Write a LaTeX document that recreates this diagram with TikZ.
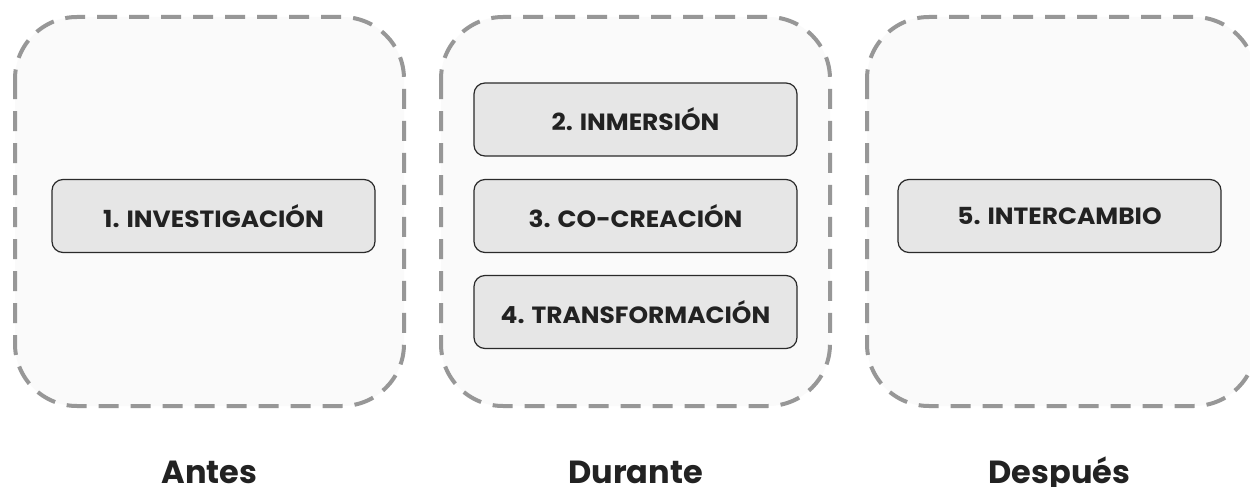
\documentclass[tikz,border=0pt]{standalone}
\usepackage{fontspec}
\setmainfont{Poppins}
\newfontfamily\boxfont[FakeStretch=1.06]{Poppins}
\definecolor{dashgray}{HTML}{979797}
\definecolor{panelfill}{HTML}{FAFAFA}
\definecolor{boxfill}{HTML}{E6E6E6}
\definecolor{boxline}{HTML}{2A2A2A}
\definecolor{txt}{HTML}{222222}
\tikzset{
  panel/.style={draw=dashgray, fill=panelfill, line width=4pt, dash pattern=on 20pt off 12pt, rounded corners=62pt},
  stepbox/.style={draw=boxline, fill=boxfill, line width=1.2pt, rounded corners=11pt, minimum width=323pt, minimum height=73pt, inner sep=0pt, font=\boxfont\fontsize{23.5}{26}\selectfont\bfseries, text=txt},
  phase/.style={font=\fontsize{32}{36}\selectfont\bfseries, text=txt, inner sep=0pt, anchor=base}
}
\begin{document}
\begin{tikzpicture}[x=1pt,y=-1pt]
\clip (0,0) rectangle (1250,487);
\fill[white] (0,0) rectangle (1250,487);
\draw[panel] (15,17) rectangle (404,406);
\draw[panel] (441,17) rectangle (830,406);
\draw[panel] (867,17) rectangle (1256,406);
\node[stepbox] (s1) at (213.5,216) {1. INVESTIGACIÓN};
\node[stepbox] (s2) at (635.5,119.5) {2. INMERSIÓN};
\node[stepbox] (s3) at (635.5,216) {3. CO-CREACIÓN};
\node[stepbox] (s4) at (635.5,312) {4. TRANSFORMACIÓN};
\node[stepbox] (s5) at (1059.5,216) {5. INTERCAMBIO};
\node[phase] (p1) at (209.5,483) {Antes};
\node[phase] (p2) at (635.5,483) {Durante};
\node[phase] (p3) at (1059.5,483) {Después};
\end{tikzpicture}
\end{document}
